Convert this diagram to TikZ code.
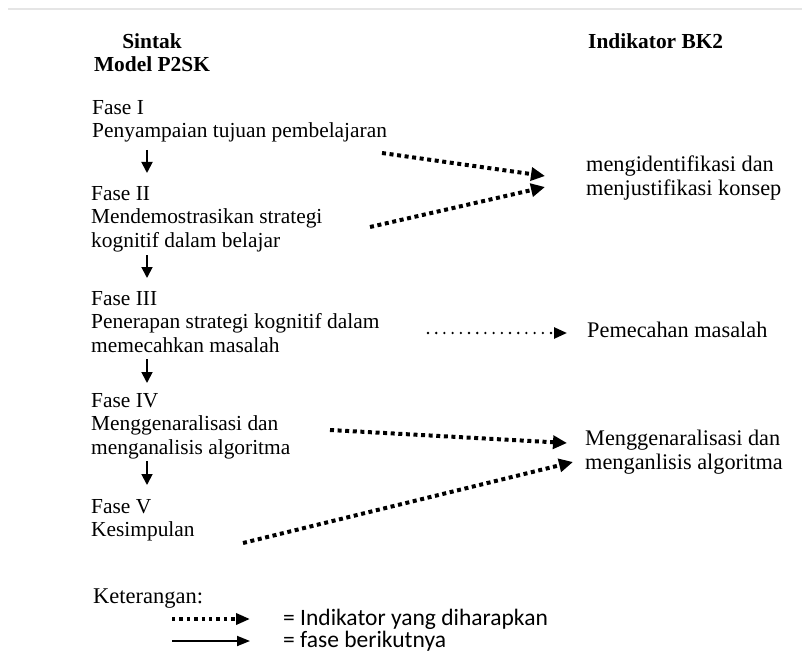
\documentclass[tikz,border=0pt]{standalone}
\usepackage{fontspec}
\setmainfont{Liberation Serif}
\newfontfamily\legendfont{Carlito}
\usetikzlibrary{arrows.meta, positioning}

\begin{document}
\begin{tikzpicture}[x=1pt, y=-1pt,
  txt/.style={anchor=north west, align=left, inner sep=0pt, font=\fontsize{21.4}{23.6}\selectfont},
  indtxt/.style={txt, font=\fontsize{22.3}{23.6}\selectfont},
  hdr/.style={txt, font=\fontsize{21.4}{23}\selectfont\bfseries},
  legtxt/.style={anchor=west, inner sep=0pt, font=\legendfont\fontsize{23.5}{26}\selectfont},
  nextfase/.style={line width=1.8pt, -{Triangle[length=11pt, width=11pt]}},
  indik/.style={line width=4pt, dash pattern=on 4pt off 3.6pt, -{Triangle[length=14pt, width=13pt]}},
  indikthin/.style={line width=2.6pt, line cap=round, dash pattern=on 0pt off 8.2pt, -{Triangle[length=13pt, width=11pt]}}]
\useasboundingbox (0,0) rectangle (802,655);
\draw[gray!20, line width=2pt] (8,9.5) -- (802,9.5);

% headers
\node[hdr, anchor=north, align=center] (sintak) at (152,33) {Sintak\\Model P2SK};
\node[hdr] (bk2) at (588,33) {Indikator BK2};

% fase (left)
\node[txt] (fase1) at (92,100) {Fase I\\Penyampaian tujuan pembelajaran};
\node[txt] (fase2) at (91,186) {Fase II\\Mendemostrasikan strategi\\kognitif dalam belajar};
\node[txt] (fase3) at (91,291) {Fase III\\Penerapan strategi kognitif dalam\\memecahkan masalah};
\node[txt] (fase4) at (91,393) {Fase IV\\Menggenaralisasi dan\\menganalisis algoritma};
\node[txt] (fase5) at (91,499) {Fase V\\Kesimpulan};

% indikator (right)
\node[indtxt] (ind1) at (586,156) {mengidentifikasi dan\\menjustifikasi konsep};
\node[indtxt] (ind2) at (587,322) {Pemecahan masalah};
\node[indtxt] (ind3) at (585,430) {Menggenaralisasi dan\\menganlisis algoritma};

% fase berikutnya
\coordinate (d1a) at (147,150); \coordinate (d1b) at (147,173);
\coordinate (d2a) at (147,255); \coordinate (d2b) at (147,278);
\coordinate (d3a) at (147,359); \coordinate (d3b) at (147,383);
\coordinate (d4a) at (147,461); \coordinate (d4b) at (147,485);
\draw[nextfase] (d1a) -- (d1b);
\draw[nextfase] (d2a) -- (d2b);
\draw[nextfase] (d3a) -- (d3b);
\draw[nextfase] (d4a) -- (d4b);

% indikator yang diharapkan
\coordinate (i1a) at (382,153); \coordinate (i1b) at (545,176);
\coordinate (i2a) at (370,227); \coordinate (i2b) at (545,187);
\coordinate (i3a) at (428,333); \coordinate (i3b) at (567,333);
\coordinate (i4a) at (330,430); \coordinate (i4b) at (567,443);
\coordinate (i5a) at (243,543); \coordinate (i5b) at (573,462);
\draw[indik] (i1a) -- (i1b);
\draw[indik] (i2a) -- (i2b);
\draw[indikthin] (i3a) -- (i3b);
\draw[indik] (i4a) -- (i4b);
\draw[indik] (i5a) -- (i5b);

% keterangan
\node[txt, font=\fontsize{22.5}{24}\selectfont] (ket) at (93,589) {Keterangan:};
\coordinate (l1a) at (172,619); \coordinate (l1b) at (250,619);
\coordinate (l2a) at (172,641); \coordinate (l2b) at (250,641);
\draw[line width=3.4pt, dash pattern=on 3.4pt off 4pt, -{Triangle[length=14pt, width=11pt]}] (l1a) -- (l1b);
\draw[line width=1.8pt, -{Triangle[length=13pt, width=10pt]}] (l2a) -- (l2b);
\node[legtxt] (leg1) at (283,619) {= Indikator yang diharapkan};
\node[legtxt] (leg2) at (283,641) {= fase berikutnya};
\end{tikzpicture}
\end{document}
